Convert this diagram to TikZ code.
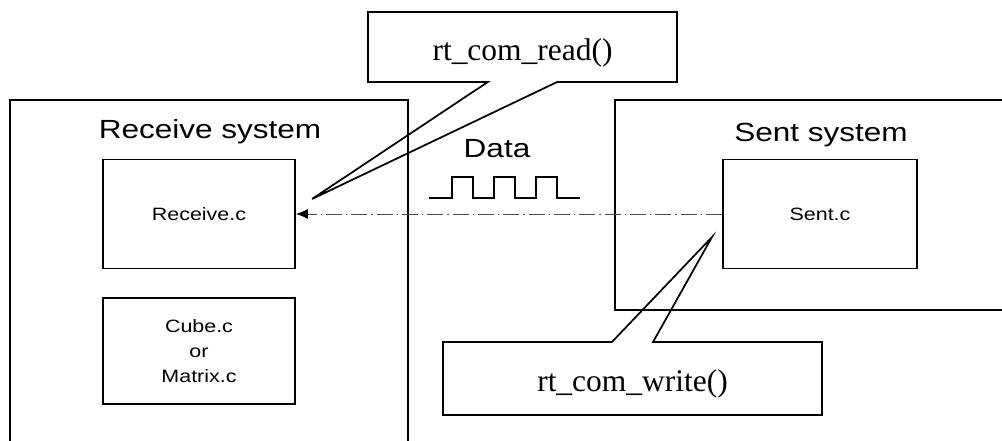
\documentclass[tikz,border=0pt]{standalone}
\usepackage{fontspec}
\setmainfont{Liberation Serif}
\newfontfamily\labelfont[FakeStretch=1.2]{Liberation Sans}
\usetikzlibrary{arrows.meta,positioning}

\begin{document}
\begin{tikzpicture}[
  x=0.75pt,y=-0.75pt,
  node distance=21pt,
  frame/.style={draw,line width=1.3pt},
  filebox/.style={draw,line width=1.3pt,minimum width=144pt,minimum height=81.75pt,
    align=center,font=\labelfont\fontsize{13.4}{18.75}\selectfont},
  title/.style={anchor=base,font=\labelfont\fontsize{19.7}{22}\selectfont},
  callout/.style={outer sep=0pt,minimum height=52.5pt,text height=20pt,text depth=0pt,
    font=\fontsize{23.6}{26}\selectfont},
  dataflow/.style={line width=0.7pt,black!70,dash pattern=on 12pt off 3pt on 1pt off 3pt,
    -{Latex[length=9pt,width=7.5pt,color=black]}}
]
\clip (0,0) rectangle (1002,441);
% system frames, running off the page edge
\draw[frame] (10,100) rectangle (408,460);
\draw[frame] (615,100) rectangle (1020,310);
\node[title] (recvtitle) at (210,139) {Receive system};
\node[title] (senttitle) at (821,142) {Sent system};

% source files
\node[filebox] (recv) at (199,214) {Receive.c};
\node[filebox,below=of recv,minimum height=79.5pt] (cube) {Cube.c\\or\\Matrix.c};
\node[filebox,minimum width=145.5pt] (sent) at (820,214) {Sent.c};

% data link with its pulse train
\draw[dataflow] (sent.west) -- (recv.east);
\node[title] (data) at (497,158) {Data};
\draw[line width=1.3pt] (429,198) foreach \x in {452,494,536}
  {-- (\x,198) -- (\x,177) -- (\x+21,177) -- (\x+21,198)} -- (580,198);

% call-outs for the communication calls
\node[callout,minimum width=231.75pt] (read) at (522.5,47) {rt\_com\_read()};
\coordinate (readtip) at (312,199);
\draw[frame] ([xshift=-26pt]read.south) -| (read.north west) -- (read.north east)
  |- ([xshift=26pt]read.south) -- (readtip) -- cycle;

\node[callout,minimum width=284.25pt,minimum height=54.75pt] (write) at (632.5,378.5) {rt\_com\_write()};
\coordinate (writetip) at (712,237);
\draw[frame] ([xshift=-15.4pt]write.north) -| (write.south west) -- (write.south east)
  |- ([xshift=15.4pt]write.north) -- (writetip) -- cycle;
\end{tikzpicture}
\end{document}
